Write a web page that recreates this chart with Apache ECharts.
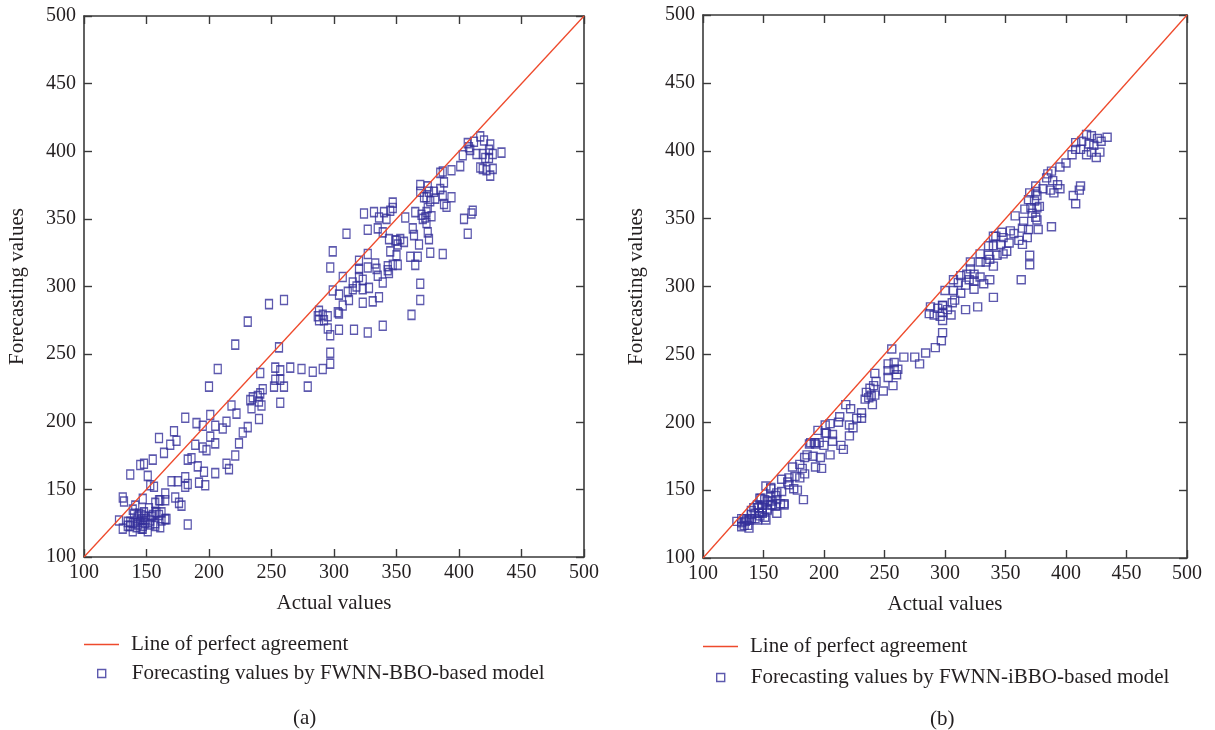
<!DOCTYPE html>
<html>
<head>
<meta charset="utf-8">
<script src="https://cdn.jsdelivr.net/npm/echarts@6/dist/echarts.min.js"></script>
<style>
html,body{margin:0;padding:0;background:#fff;}
#chart{width:1215px;height:730px;}
</style>
</head>
<body>
<div id="chart"></div>
<script>
// ---------------- data ----------------
const axisMin = 100;
const axisMax = 500;
const axisStep = 50;
const lineOfAgreement = [[100, 100], [500, 500]];
const lineName = 'Line of perfect agreement';
const seriesNameA = 'Forecasting values by FWNN-BBO-based model';
const seriesNameB = 'Forecasting values by FWNN-iBBO-based model';
const xAxisTitle = 'Actual values';
const yAxisTitle = 'Forecasting values';
const panelLabels = ['(a)', '(b)'];

// panel (a): [actual, forecast]
const scatterA = [
  [248,287],[260,290],[231,274],[221,257],[256,255],[207,239],[200,226],[241,236],[253,240],[257,238],
  [265,240],[274,239],[283,237],[291,239],[297,243],[297,251],[253,231],[257,231],[252,226],[260,226],
  [279,226],[243,224],[241,221],[239,219],[235,218],[233,216],[234,210],[242,212],[240,215],[240,202],
  [257,214],[218,212],[222,206],[201,205],[181,203],[190,199],[195,197],[205,197],[211,195],[214,200],
  [231,196],[227,192],[224,184],[221,175],[214,169],[216,165],[205,162],[196,163],[191,167],[201,189],
  [205,184],[195,181],[198,179],[189,183],[186,173],[183,172],[172,193],[174,186],[169,183],[160,188],
  [164,177],[155,172],[148,169],[145,168],[137,161],[151,160],[153,153],[156,152],[170,156],[175,156],
  [181,159],[181,152],[183,154],[192,155],[197,153],[165,147],[160,142],[165,142],[173,144],[176,140],
  [178,138],[131,144],[132,141],[147,143],[141,138],[139,135],[144,132],[148,133],[152,136],[157,140],
  [158,133],[162,133],[154,130],[150,128],[146,128],[142,127],[128,127],[135,126],[139,125],[143,124],
  [149,125],[153,127],[165,128],[157,125],[161,122],[131,121],[139,119],[146,121],[151,119],[183,124],
  [137,123],[147,123],
  [140,132],[143,130],[146,131],[145,126],[155,131],[157,133],[160,131],[162,127],[166,128],[157,123],
  [147,121],[142,122],[135,123],[137,126],[148,130],[153,124],[161,142],
  [287,278],[291,279],[295,278],[288,282],[288,275],[292,275],[295,269],[297,264],[304,268],[303,281],
  [316,268],[327,266],[339,271],
  [407,406],[417,411],[412,407],[420,408],[425,405],[409,401],[414,398],[419,398],[424,401],[427,398],
  [434,399],[403,397],[408,403],[421,395],[424,395],[417,388],[419,387],[422,386],[427,387],[425,382],
  [401,389],[394,386],[387,385],[385,384],[388,377],[369,375],[375,374],[369,370],[376,370],[380,370],
  [385,372],[374,366],[372,366],[377,363],[381,365],[387,367],[394,366],[388,361],[390,359],[347,362],
  [324,354],[332,355],[336,351],[340,355],[345,356],[347,358],[342,350],[357,351],[365,355],[375,358],
  [374,355],[373,351],[371,350],[378,352],[374,347],[375,340],[376,335],[370,353],[404,350],[410,354],
  [411,356],[407,339],[310,339],[327,342],[335,343],[339,340],[344,335],[350,334],[353,335],[356,333],
  [351,331],[349,334],[363,343],[364,338],[368,331],[299,326],[327,324],[345,326],[350,323],[361,322],
  [367,322],[377,325],[387,324],[320,319],[333,317],[327,314],[297,314],[320,313],[334,313],[335,308],
  [343,315],[343,312],[347,316],[351,316],[344,310],[365,316],[307,307],[315,303],[320,307],[323,305],
  [339,303],[318,300],[323,298],[328,299],[299,297],[304,294],[311,296],[315,298],[307,286],[312,290],
  [323,288],[331,289],[336,292],[369,302],[369,290],[362,279],[304,280]
];

// panel (b): [actual, forecast]
const scatterB = [
  [288,285],[294,284],[298,286],[287,280],[291,279],[296,278],[298,275],[298,266],[297,260],[292,255],
  [284,251],[279,243],[275,248],[266,248],[256,254],[253,243],[258,244],[258,239],[261,239],[253,238],
  [253,233],[260,235],[257,227],[249,223],[242,236],[243,230],[241,227],[238,225],[235,222],[234,217],
  [239,220],[242,220],[240,213],[237,218],[218,213],[222,210],[213,204],[227,203],[231,203],[231,207],
  [224,196],[221,198],[221,190],[212,200],[205,199],[201,198],[195,194],[202,192],[207,191],[207,186],
  [214,183],[216,180],[200,183],[196,185],[192,185],[189,185],[205,176],[197,174],[191,175],[186,176],
  [184,174],[180,169],[182,166],[193,167],[198,166],[184,162],[180,159],[176,160],[174,167],[171,159],
  [170,156],[165,158],[175,151],[178,150],[165,149],[156,152],[152,153],[183,143],[161,148],[161,143],
  [167,140],[161,133],[156,145],[153,142],[148,144],[145,139],[140,135],[143,133],[149,137],[153,135],
  [157,139],[147,131],[152,128],[145,128],[140,129],[136,128],[132,126],[128,127],[132,123],[138,122],
  [134,129],[149,133],
  [132,129],[135,127],[138,128],[134,124],[137,124],[140,132],[143,129],[146,133],[142,137],[146,137],
  [149,134],[151,130],[149,139],[151,143],[153,136],[156,139],[157,142],[160,138],[164,140],[167,139],
  [156,151],[147,144],[160,146],[171,154],[188,184],[193,184],[201,192],
  [417,412],[421,411],[426,409],[429,407],[434,410],[413,407],[408,406],[419,405],[423,404],[412,401],
  [408,401],[417,397],[421,399],[425,395],[428,399],[405,397],[400,391],[395,388],[388,385],[385,383],
  [384,380],[389,378],[393,375],[395,372],[390,369],[381,372],[387,371],[375,374],[375,370],[370,369],
  [369,364],[376,367],[374,363],[378,359],[376,358],[371,358],[366,357],[372,354],[375,351],[376,349],
  [377,342],[365,348],[364,343],[369,342],[388,344],[358,352],[406,367],[411,371],[412,374],[408,361],
  [354,341],[347,340],[342,337],[340,337],[348,336],[357,339],[368,336],[361,334],[364,331],[353,332],
  [346,331],[340,330],[336,330],[351,326],[348,324],[343,323],[336,323],[329,324],[329,318],[334,318],
  [340,315],[337,320],[370,323],[370,316],[363,305],[321,318],[321,313],[318,309],[324,309],[329,307],
  [337,305],[332,302],[324,304],[320,305],[313,308],[307,305],[311,303],[317,301],[313,295],[324,298],
  [307,297],[300,297],[308,290],[306,288],[340,292],[327,285],[317,283],[298,286],[305,279],[298,281],
  [302,283]
];

// ---------------- style ----------------
const FONT = 'Liberation Serif, Times New Roman, serif';
const AXIS_COLOR = '#3a3a3a';
const TEXT_COLOR = '#231f20';
const RED = '#ee4a2c';
const BLUE = '#34309a';

const chart = echarts.init(document.getElementById('chart'), null, {renderer: 'canvas'});

function mainX(gridIndex) {
  return {
    type: 'value', gridIndex, position: 'bottom',
    min: axisMin, max: axisMax, interval: axisStep,
    name: xAxisTitle, nameLocation: 'middle', nameGap: 36,
    nameTextStyle: {fontFamily: FONT, fontSize: 21, color: TEXT_COLOR},
    axisLine: {show: true, lineStyle: {color: AXIS_COLOR, width: 1.6}},
    axisTick: {show: true, inside: true, length: 8, lineStyle: {color: AXIS_COLOR, width: 1.4}},
    axisLabel: {fontFamily: FONT, fontSize: 20, color: TEXT_COLOR, margin: 6},
    splitLine: {show: false}
  };
}
function topX(gridIndex) {
  return {
    type: 'value', gridIndex, position: 'top',
    min: axisMin, max: axisMax, interval: axisStep,
    axisLine: {show: true, lineStyle: {color: AXIS_COLOR, width: 1.6}},
    axisTick: {show: true, inside: true, length: 8, lineStyle: {color: AXIS_COLOR, width: 1.4}},
    axisLabel: {show: false}, splitLine: {show: false}
  };
}
function mainY(gridIndex) {
  return {
    type: 'value', gridIndex, position: 'left',
    min: axisMin, max: axisMax, interval: axisStep,
    name: yAxisTitle, nameLocation: 'middle', nameGap: 56, nameRotate: 90,
    nameTextStyle: {fontFamily: FONT, fontSize: 21, color: TEXT_COLOR},
    axisLine: {show: true, lineStyle: {color: AXIS_COLOR, width: 1.6}},
    axisTick: {show: true, inside: true, length: 8, lineStyle: {color: AXIS_COLOR, width: 1.4}},
    axisLabel: {fontFamily: FONT, fontSize: 20, color: TEXT_COLOR, margin: 8},
    splitLine: {show: false}
  };
}
function rightY(gridIndex) {
  return {
    type: 'value', gridIndex, position: 'right',
    min: axisMin, max: axisMax, interval: axisStep,
    axisLine: {show: true, lineStyle: {color: AXIS_COLOR, width: 1.6}},
    axisTick: {show: true, inside: true, length: 8, lineStyle: {color: AXIS_COLOR, width: 1.4}},
    axisLabel: {show: false}, splitLine: {show: false}
  };
}

const legendText = {fontFamily: FONT, fontSize: 21, color: TEXT_COLOR};
function lineLegend(left, top) {
  return {
    data: [{name: lineName, icon: 'rect', itemStyle: {color: RED, borderWidth: 0}}],
    left, top, padding: 0, orient: 'vertical', itemWidth: 35, itemHeight: 1.4,
    textStyle: Object.assign({padding: [0, 0, 0, 7]}, legendText)
  };
}
function scatterLegend(name, left, top) {
  return {
    data: [{name, icon: 'rect', itemStyle: {color: 'rgba(0,0,0,0)', borderColor: BLUE, borderWidth: 1.4}}],
    left, top, padding: 0, orient: 'vertical', itemWidth: 8, itemHeight: 8,
    textStyle: Object.assign({padding: [0, 0, 0, 21]}, legendText)
  };
}

const option = {
  backgroundColor: '#fff',
  animation: false,
  grid: [
    {left: 84, top: 16, width: 500, height: 541},
    {left: 703, top: 15, width: 484, height: 543}
  ],
  xAxis: [mainX(0), topX(0), mainX(1), topX(1)],
  yAxis: [mainY(0), rightY(0), mainY(1), rightY(1)],
  legend: [
    lineLegend(84, 634),
    scatterLegend(seriesNameA, 97, 663),
    lineLegend(703, 636),
    scatterLegend(seriesNameB, 716, 667)
  ],
  graphic: [
    {type: 'text', left: 293, top: 708, style: {text: panelLabels[0], font: '21px ' + FONT, fill: TEXT_COLOR}},
    {type: 'text', left: 930, top: 709, style: {text: panelLabels[1], font: '21px ' + FONT, fill: TEXT_COLOR}}
  ],
  series: [
    {name: lineName, type: 'line', xAxisIndex: 0, yAxisIndex: 0, data: lineOfAgreement,
     symbol: 'none', lineStyle: {color: RED, width: 1.3}, itemStyle: {color: RED}, z: 3},
    {name: seriesNameA, type: 'scatter', xAxisIndex: 0, yAxisIndex: 0, data: scatterA,
     symbol: 'rect', symbolSize: [7, 9],
     itemStyle: {color: 'rgba(0,0,0,0)', borderColor: BLUE, borderWidth: 1.4}, z: 2},
    {name: lineName, type: 'line', xAxisIndex: 2, yAxisIndex: 2, data: lineOfAgreement,
     symbol: 'none', lineStyle: {color: RED, width: 1.3}, itemStyle: {color: RED}, z: 3},
    {name: seriesNameB, type: 'scatter', xAxisIndex: 2, yAxisIndex: 2, data: scatterB,
     symbol: 'rect', symbolSize: [8, 8],
     itemStyle: {color: 'rgba(0,0,0,0)', borderColor: BLUE, borderWidth: 1.4}, z: 2}
  ]
};
chart.setOption(option);
</script>
</body>
</html>
